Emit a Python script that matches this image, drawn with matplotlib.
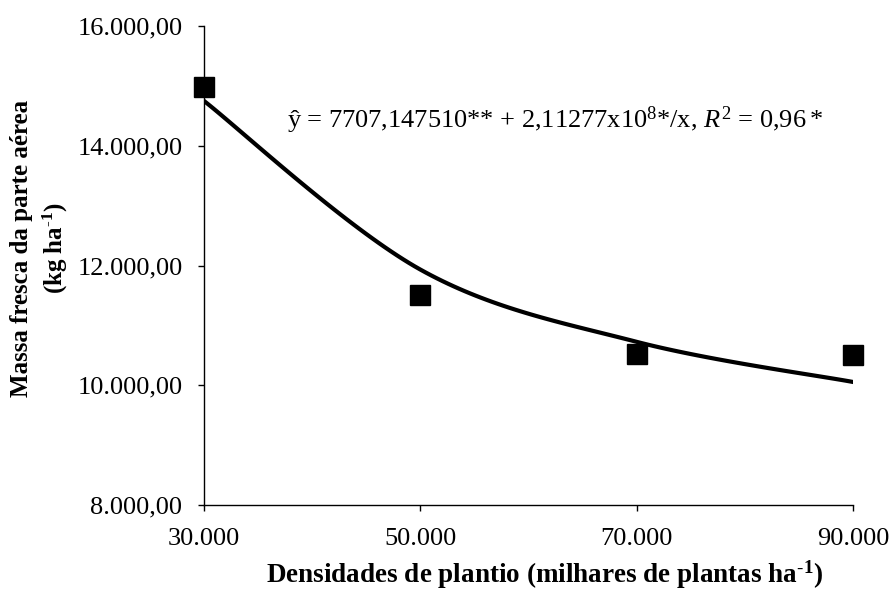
import numpy as np
import matplotlib
matplotlib.use("Agg")
import matplotlib.pyplot as plt
from matplotlib.ticker import FuncFormatter

plt.rcParams['font.family'] = ['Liberation Serif', 'DejaVu Serif']
plt.rcParams['mathtext.fontset'] = 'custom'
plt.rcParams['mathtext.rm'] = 'Liberation Serif'
plt.rcParams['mathtext.it'] = 'Liberation Serif:italic'
plt.rcParams['mathtext.bf'] = 'Liberation Serif:bold'

# plant densities and observed fresh mass
densidade = [30000, 50000, 70000, 90000]
massa = [14980, 11510, 10530, 10500]

# fitted model y = a + b/x
a = 7707.147510
b = 2.11277e8
y_fit = [a + b / x for x in densidade]


def smooth(xs, ys, n=40):
    # excel style smoothed line (bezier through fitted points)
    px = [xs[0]] + list(xs) + [xs[-1]]
    py = [ys[0]] + list(ys) + [ys[-1]]
    ox, oy = [], []
    for i in range(1, len(px) - 2):
        t = np.linspace(0, 1, n)
        for p, out in ((px, ox), (py, oy)):
            p0, p1, p2, p3 = p[i - 1], p[i], p[i + 1], p[i + 2]
            c1 = p1 + (p2 - p0) / 6
            c2 = p2 - (p3 - p1) / 6
            out.extend((1 - t) ** 3 * p1 + 3 * (1 - t) ** 2 * t * c1
                       + 3 * (1 - t) * t ** 2 * c2 + t ** 3 * p2)
    return ox, oy


fig = plt.figure(figsize=(8.93, 5.92), dpi=100)
ax = fig.add_axes([0.2284, 0.147, 0.7268, 0.809])

cx, cy = smooth(densidade, y_fit)
ax.plot(cx, cy, color='black', lw=3, zorder=2)
ax.plot(densidade, massa, 's', color='black', ms=15, zorder=3, clip_on=False)

ax.set_xlim(30000, 90000)
ax.set_ylim(8000, 16000)
ax.set_xticks([30000, 50000, 70000, 90000])
ax.set_yticks([8000, 10000, 12000, 14000, 16000])


def fmt_x(v, pos):
    return f"{int(v):,}".replace(',', '.')


def fmt_y(v, pos):
    return f"{v:,.2f}".replace(',', ' ').replace('.', ',').replace(' ', '.')


ax.xaxis.set_major_formatter(FuncFormatter(fmt_x))
ax.yaxis.set_major_formatter(FuncFormatter(fmt_y))
ax.tick_params(labelsize=19, length=4.5, width=1, direction='out')
ax.tick_params(axis='y', pad=11)
ax.tick_params(axis='x', pad=12)

for s in ['top', 'right']:
    ax.spines[s].set_visible(False)
for s in ['left', 'bottom']:
    ax.spines[s].set_linewidth(1)

fig.text(545 / 893, 1 - 575 / 592,
         r"Densidades de plantio (milhares de plantas ha$^{\mathbf{\text{-}1}}$)",
         fontsize=19.5, fontweight='bold', ha='center', va='center')
fig.text(40 / 893, 1 - 248 / 592,
         "Massa fresca da parte aérea\n" + r"(kg ha$^{\mathbf{\text{-}1}}$)",
         fontsize=18, fontweight='bold', rotation=90, ha='center', va='center',
         multialignment='center', linespacing=1.4)

ax.text(0.128, 0.804,
        r"ŷ = 7707,147510** + 2,11277x10$^{8}$*/x, $\mathit{R}^{2}$ = $\mathit{0{,}96*}$",
        transform=ax.transAxes, fontsize=19, va='center', ha='left')

fig.savefig('out.png', dpi=100)
